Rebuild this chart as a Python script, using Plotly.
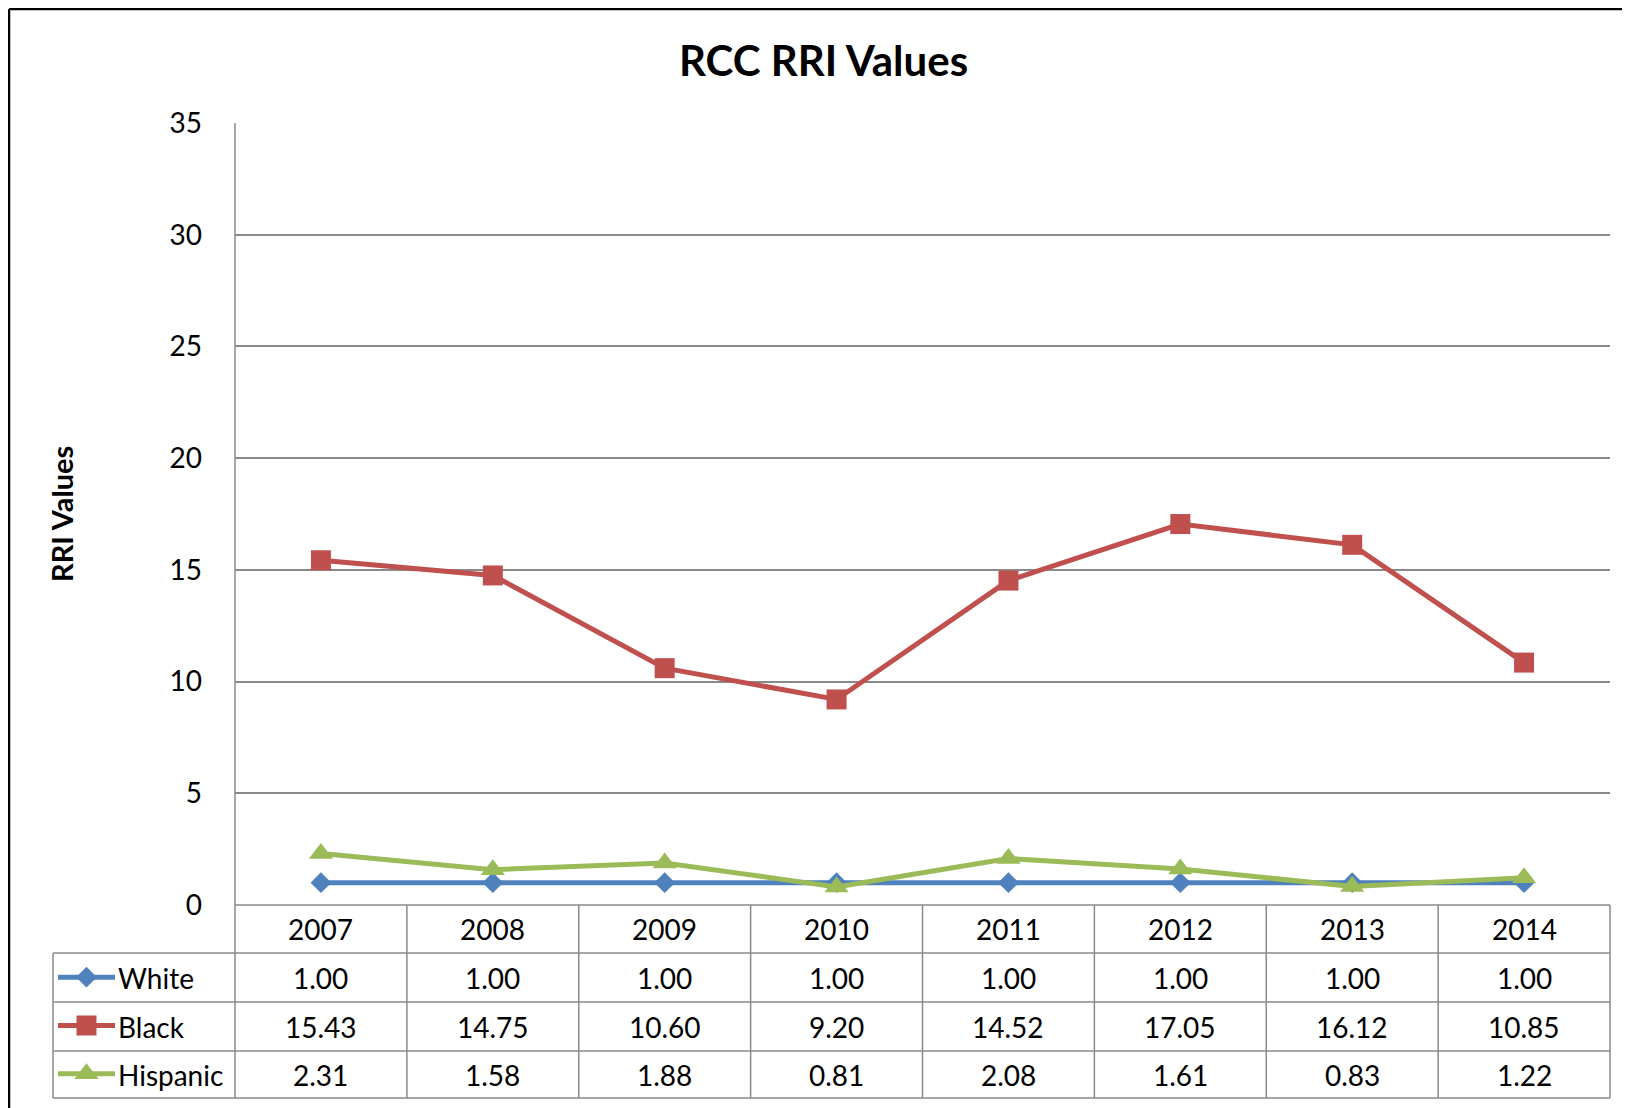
import plotly.graph_objects as go

years = ["2007", "2008", "2009", "2010", "2011", "2012", "2013", "2014"]
white = [1.00, 1.00, 1.00, 1.00, 1.00, 1.00, 1.00, 1.00]
black = [15.43, 14.75, 10.60, 9.20, 14.52, 17.05, 16.12, 10.85]
hispanic = [2.31, 1.58, 1.88, 0.81, 2.08, 1.61, 0.83, 1.22]
series_names = ["White", "Black", "Hispanic"]
series_values = [white, black, hispanic]
colors = ["#4F81BD", "#C0504D", "#9BBB59"]
symbols = ["diamond", "square", "triangle-up"]
marker_sizes = [16, 20, 21]

# page is offset by the browser's 8px body margin
OFF = 8
W, H = 1622, 1100
FONT = "Lato"
GRID = "#8a8a8a"
TXT = 28

def px(x):
    return (x - OFF) / W

def py(y):
    return (H - (y - OFF)) / H

# layout geometry (page pixels)
PL, PR, PT, PB = 235, 1610, 123, 905
LEGL = 53
row_bounds = [905, 953, 1002, 1051, 1098]

fig = go.Figure()

for name, vals, c, s, ms in zip(series_names, series_values, colors, symbols, marker_sizes):
    fig.add_trace(go.Scatter(
        x=list(range(len(years))), y=vals, name=name, mode="lines+markers",
        line=dict(color=c, width=5),
        marker=dict(symbol=s, size=ms, color=c),
        xaxis="x", yaxis="y", showlegend=False, cliponaxis=False))

# legend glyphs in table (rows top->bottom)
for i, (c, s, ms) in enumerate(zip(colors, symbols, marker_sizes)):
    yc = 2.5 - i
    fig.add_trace(go.Scatter(x=[0, 1], y=[yc, yc], mode="lines",
                             line=dict(color=c, width=5),
                             xaxis="x2", yaxis="y2", showlegend=False, hoverinfo="skip"))
    fig.add_trace(go.Scatter(x=[0.5], y=[yc], mode="markers",
                             marker=dict(symbol=s, size=ms, color=c),
                             xaxis="x2", yaxis="y2", showlegend=False, hoverinfo="skip", cliponaxis=False))

shapes = []
# outer border (left and top)
shapes.append(dict(type="line", xref="paper", yref="paper", x0=px(9), x1=px(9), y0=py(9), y1=py(1108), line=dict(color="black", width=2.5)))
shapes.append(dict(type="line", xref="paper", yref="paper", x0=px(9), x1=px(1630), y0=py(9), y1=py(9), line=dict(color="black", width=2.5)))
# table vertical lines
for k in range(len(years) + 1):
    xx = PL + (PR - PL) * k / len(years)
    y0 = PT if k == 0 else PB
    shapes.append(dict(type="line", xref="paper", yref="paper", x0=px(xx), x1=px(xx), y0=py(y0), y1=py(row_bounds[-1]), line=dict(color=GRID, width=1.5)))
shapes.append(dict(type="line", xref="paper", yref="paper", x0=px(LEGL), x1=px(LEGL), y0=py(row_bounds[1]), y1=py(row_bounds[-1]), line=dict(color=GRID, width=1.5)))
# table horizontal lines
shapes.append(dict(type="line", xref="paper", yref="paper", x0=px(PL), x1=px(PR), y0=py(PB), y1=py(PB), line=dict(color=GRID, width=1.5)))
for rb in row_bounds[1:]:
    shapes.append(dict(type="line", xref="paper", yref="paper", x0=px(LEGL), x1=px(PR), y0=py(rb), y1=py(rb), line=dict(color=GRID, width=1.5)))

annotations = []
annotations.append(dict(text="<b>RCC RRI Values</b>", x=px(823), y=py(60), xref="paper", yref="paper",
                        showarrow=False, font=dict(family=FONT, size=42, color="black"), xanchor="center", yanchor="middle"))
annotations.append(dict(text="<b>RRI Values</b>", x=px(62), y=py(514), xref="paper", yref="paper", textangle=-90,
                        showarrow=False, font=dict(family=FONT, size=29, color="black"), xanchor="center", yanchor="middle"))
# header row
for j, yr in enumerate(years):
    annotations.append(dict(text=yr, x=j, y=py((row_bounds[0] + row_bounds[1]) / 2), xref="x", yref="paper",
                            showarrow=False, font=dict(family=FONT, size=TXT, color="black"), yanchor="middle"))
for i, (name, vals) in enumerate(zip(series_names, series_values)):
    yc = py((row_bounds[i + 1] + row_bounds[i + 2]) / 2)
    annotations.append(dict(text=name, x=px(116), y=yc, xref="paper", yref="paper", xanchor="left",
                            showarrow=False, font=dict(family=FONT, size=TXT, color="black"), yanchor="middle"))
    for j, v in enumerate(vals):
        annotations.append(dict(text=f"{v:.2f}", x=j, y=yc, xref="x", yref="paper",
                                showarrow=False, font=dict(family=FONT, size=TXT, color="black"), yanchor="middle"))

fig.update_layout(
    width=W, height=H,
    margin=dict(l=0, r=0, t=0, b=0),
    paper_bgcolor="white", plot_bgcolor="white",
    font=dict(family=FONT, color="black"),
    xaxis=dict(domain=[px(PL), px(PR)], range=[-0.5, len(years) - 0.5],
               showgrid=False, showticklabels=False, showline=False, zeroline=False, fixedrange=True),
    yaxis=dict(domain=[py(PB), py(PT)], range=[0, 35], dtick=5, tick0=0,
               showgrid=True, gridcolor=GRID, gridwidth=1.5, zeroline=False, showline=False,
               tickfont=dict(family=FONT, size=TXT, color="black"), ticks="", ticklabelstandoff=32,
               automargin=False),
    xaxis2=dict(domain=[px(LEGL + 5), px(LEGL + 62)], range=[0, 1], visible=False, anchor="y2"),
    yaxis2=dict(domain=[py(row_bounds[-1]), py(row_bounds[1])], range=[0, 3], visible=False, anchor="x2"),
    shapes=shapes,
    annotations=annotations,
)

fig.write_html("out.html")
